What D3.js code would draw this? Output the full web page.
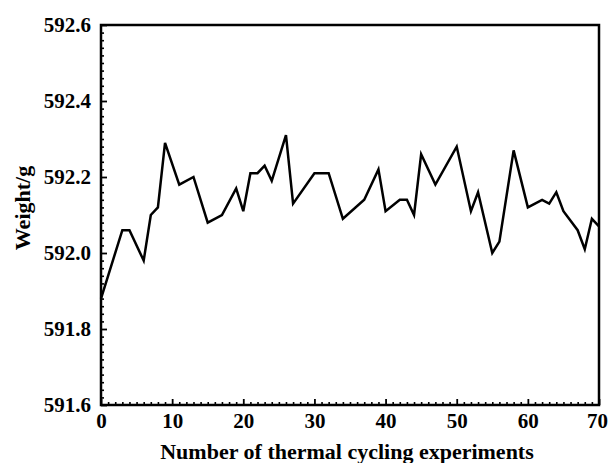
<!DOCTYPE html>
<html>
<head>
<meta charset="utf-8">
<script src="https://cdn.jsdelivr.net/npm/d3@7"></script>
<style>
  html, body { margin: 0; padding: 0; background: #fff; }
  svg { display: block; }
</style>
</head>
<body>
<svg id="chart" width="608" height="463"></svg>
<script>
// Sample weight after each thermal cycling experiment
const cycles  = [0, 3, 4, 6, 7, 8, 9, 11, 13, 15, 17, 19, 20, 21, 22, 23, 24, 26, 27, 30, 32, 34, 37, 39, 40, 42, 43, 44, 45, 47, 50, 52, 53, 55, 56, 58, 60, 62, 63, 64, 65, 67, 68, 69, 70];
const weights = [591.88, 592.06, 592.06, 591.98, 592.10, 592.12, 592.29, 592.18, 592.20, 592.08, 592.10, 592.17, 592.11, 592.21, 592.21, 592.23, 592.19, 592.31, 592.13, 592.21, 592.21, 592.09, 592.14, 592.22, 592.11, 592.14, 592.14, 592.10, 592.26, 592.18, 592.28, 592.11, 592.16, 592.00, 592.03, 592.27, 592.12, 592.14, 592.13, 592.16, 592.11, 592.06, 592.01, 592.09, 592.07];

const xTicks = [0, 10, 20, 30, 40, 50, 60, 70];
const yTicks = [591.6, 591.8, 592.0, 592.2, 592.4, 592.6];
const xTitle = "Number of thermal cycling experiments";
const yTitle = "Weight/g";

const FONT = '"Liberation Serif", "Times New Roman", Times, serif';
const plotLeft = 101, plotRight = 599, plotTop = 25, plotBottom = 405;
const svg = d3.select("#chart");

const x = d3.scaleLinear().domain([0, 70]).range([plotLeft, plotRight]);
const y = d3.scaleLinear().domain([591.6, 592.6]).range([plotBottom, plotTop]);

function styleLabels(g) {
  g.attr("font-family", FONT).attr("font-size", 21).attr("font-weight", "bold");
  g.selectAll("text")
    .style("font-family", FONT)
    .style("font-weight", "bold")
    .style("font-size", "21px")
    .attr("fill", "#000");
}

// minor ticks (inward)
const xMinor = d3.range(0, 71, 1).filter(v => v % 10 !== 0);
const yMinor = d3.range(0, 51).map(i => 591.6 + i * 0.02).filter((v, i) => i % 10 !== 0);

svg.append("g").attr("transform", `translate(0,${plotBottom})`)
  .call(d3.axisBottom(x).tickValues(xMinor).tickSizeInner(-3).tickSizeOuter(0).tickFormat(""))
  .call(g => g.select(".domain").remove())
  .call(g => g.selectAll("line").attr("stroke-width", 1.6));

svg.append("g").attr("transform", `translate(${plotLeft},0)`)
  .call(d3.axisLeft(y).tickValues(yMinor).tickSizeInner(-3).tickSizeOuter(0).tickFormat(""))
  .call(g => g.select(".domain").remove())
  .call(g => g.selectAll("line").attr("stroke-width", 1.6));

// major ticks with labels
svg.append("g").attr("transform", `translate(0,${plotBottom})`)
  .call(d3.axisBottom(x).tickValues(xTicks).tickSizeInner(-6).tickSizeOuter(0).tickPadding(8).tickFormat(d3.format("d")))
  .call(g => g.select(".domain").remove())
  .call(g => g.selectAll("line").attr("stroke-width", 1.8))
  .call(styleLabels)
  .call(g => g.selectAll("text").filter(d => d === 70).attr("dx", -2));

svg.append("g").attr("transform", `translate(${plotLeft},0)`)
  .call(d3.axisLeft(y).tickValues(yTicks).tickSizeInner(-6).tickSizeOuter(0).tickPadding(10).tickFormat(d3.format(".1f")))
  .call(g => g.select(".domain").remove())
  .call(g => g.selectAll("line").attr("stroke-width", 1.8))
  .call(styleLabels);

// frame
svg.append("rect")
  .attr("x", plotLeft).attr("y", plotTop)
  .attr("width", plotRight - plotLeft).attr("height", plotBottom - plotTop)
  .attr("fill", "none").attr("stroke", "#000").attr("stroke-width", 2.5);

// data line
const line = d3.line().x((d, i) => x(cycles[i])).y(d => y(d));
svg.append("path")
  .datum(weights)
  .attr("d", line)
  .attr("fill", "none")
  .attr("stroke", "#000")
  .attr("stroke-width", 2.5)
  .attr("stroke-linejoin", "miter");

// axis titles
svg.append("text")
  .attr("x", 347).attr("y", 459)
  .attr("text-anchor", "middle")
  .style("font-family", FONT).style("font-weight", "bold").style("font-size", "22px")
  .text(xTitle);

svg.append("text")
  .attr("transform", `translate(30,208) rotate(-90)`)
  .attr("text-anchor", "middle")
  .style("font-family", FONT).style("font-weight", "bold").style("font-size", "22px")
  .text(yTitle);
</script>
</body>
</html>
